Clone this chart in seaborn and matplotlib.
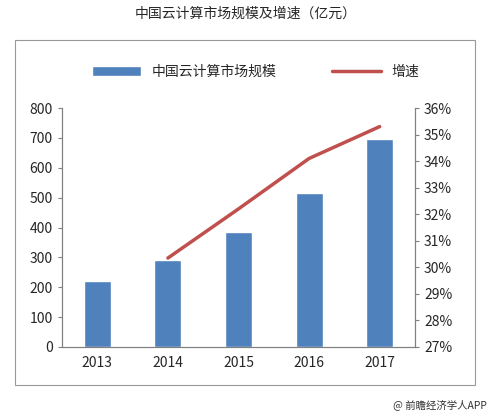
import matplotlib
matplotlib.use("Agg")
import matplotlib.pyplot as plt
import seaborn as sns
import pandas as pd
from matplotlib.patches import Rectangle

years = ["2013", "2014", "2015", "2016", "2017"]
market = [222, 291, 384, 515, 696]
growth_years = ["2014", "2015", "2016", "2017"]
growth = [30.35, 32.2, 34.1, 35.3]

sns.set_style("white")
plt.rcParams['font.family'] = ['Noto Sans CJK SC', 'DejaVu Sans']

fig = plt.figure(figsize=(4.92, 4.16), dpi=100)
fig.patch.set_facecolor("white")
fig.add_artist(Rectangle((15/492, 1-385/416), 460/492, 345/416, transform=fig.transFigure,
                         fill=False, edgecolor="#999999", lw=0.8))
fig.text(0.5, 1-14/416, "中国云计算市场规模及增速（亿元）", ha="center", va="center", fontsize=10)
fig.text(0.99, 0.015, "@ 前瞻经济学人APP", ha="right", va="bottom", fontsize=7.5, color="#333333")

ax = fig.add_axes([62/492, 1-347/416, 353/492, 239/416])
df = pd.DataFrame({"year": years, "v": market})
sns.barplot(data=df, x="year", y="v", color="#4F81BD", saturation=1, width=0.38, ax=ax, label="中国云计算市场规模")
ax.set_ylim(0, 800)
ax.set_yticks(range(0, 801, 100))
ax.set_xlabel(""); ax.set_ylabel("")
ax2 = ax.twinx()
xs = [years.index(y) for y in growth_years]
sns.lineplot(x=xs, y=growth, color="#C0504D", lw=2.5, ax=ax2, label="增速")
ax2.set_ylim(27, 36)
ax2.set_yticks(range(27, 37))
ax2.set_yticklabels([f"{v}%" for v in range(27, 37)])
ax.set_xlim(-0.5, 4.5)
for a in (ax, ax2):
    for s in a.spines.values():
        s.set_color("#808080"); s.set_linewidth(0.8)
    a.tick_params(labelsize=10, length=3, color="#808080")
ax2.spines["top"].set_visible(False); ax.spines["top"].set_visible(False)
h1, l1 = ax.get_legend_handles_labels()
h2, l2 = ax2.get_legend_handles_labels()
for a in (ax, ax2):
    if a.get_legend() is not None:
        a.get_legend().remove()
fig.legend(h1 + h2, l1 + l2, loc="center", bbox_to_anchor=(0.52, 1-72/416), ncol=2,
           frameon=False, fontsize=10, handlelength=3.5, columnspacing=4)
fig.savefig("out.png", dpi=100)
